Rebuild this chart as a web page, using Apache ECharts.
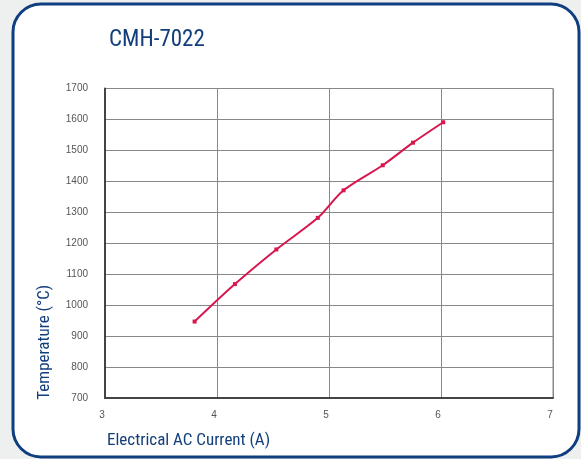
<!DOCTYPE html>
<html>
<head>
<meta charset="utf-8">
<script src="https://cdn.jsdelivr.net/npm/echarts@6/dist/echarts.min.js"></script>
<style>html,body{margin:0;padding:0;background:#eef0ef;}#c{width:581px;height:459px;}</style>
</head>
<body>
<div id="c"></div>
<script>
var currentA = [3.8, 4.16, 4.53, 4.9, 5.13, 5.48, 5.75, 6.02];
var temperatureC = [947, 1068, 1180, 1282, 1371, 1452, 1525, 1591];
var xTicks = [3, 4, 5, 6, 7];
var yTicks = [700, 800, 900, 1000, 1100, 1200, 1300, 1400, 1500, 1600, 1700];

var chart = echarts.init(document.getElementById('c'), null, {renderer: 'canvas'});
var narrow = '"Liberation Sans Narrow", "Roboto Condensed", Roboto, sans-serif';
var pts = currentA.map(function (x, i) { return [x, temperatureC[i]]; });
chart.setOption({
  backgroundColor: '#eef0ef',
  animation: false,
  title: {
    text: 'CMH-7022', left: 104, top: 24,
    textStyle: {color: '#123f7c', fontSize: 23, fontWeight: 'normal', fontFamily: narrow}
  },
  graphic: {
    elements: [{
      type: 'rect', z: -10,
      shape: {x: 13, y: 4, width: 566, height: 453, r: 28},
      style: {fill: '#ffffff', stroke: '#0f3f80', lineWidth: 3}
    }]
  },
  grid: {left: 105, top: 88.5, right: 28, bottom: 61, show: true, borderColor: '#888', borderWidth: 1},
  xAxis: {
    type: 'value', min: xTicks[0], max: xTicks[xTicks.length - 1], interval: 1,
    name: 'Electrical AC Current (A)', nameLocation: 'start', nameGap: 0,
    nameTextStyle: {color: '#123f7c', fontSize: 17, fontFamily: narrow, align: 'left', verticalAlign: 'top', padding: [34, 0, 0, 2]},
    axisLine: {lineStyle: {color: '#444', width: 2}},
    axisTick: {show: false},
    axisLabel: {color: '#555', fontSize: 10, margin: 12, fontFamily: 'Arial, sans-serif', padding: [0, 6, 0, 0]},
    splitLine: {show: true, lineStyle: {color: '#888', width: 1}}
  },
  yAxis: {
    type: 'value', min: yTicks[0], max: yTicks[yTicks.length - 1], interval: 100,
    name: 'Temperature (°C)', nameLocation: 'middle', nameGap: 52, nameRotate: 90,
    nameTextStyle: {color: '#123f7c', fontSize: 17, fontFamily: narrow, padding: [0, 0, 0, -198]},
    axisLine: {show: true, lineStyle: {color: '#444', width: 2}},
    axisTick: {show: false},
    axisLabel: {color: '#555', fontSize: 10, margin: 17, fontFamily: 'Arial, sans-serif',
      formatter: function (v) { return String(v); }},
    splitLine: {show: true, lineStyle: {color: '#888', width: 1}}
  },
  series: [{
    type: 'line', data: pts, smooth: 0.3,
    symbol: 'rect', symbolSize: 4,
    lineStyle: {color: '#d8174f', width: 2},
    itemStyle: {color: '#d8174f'}
  }]
});
</script>
</body>
</html>
